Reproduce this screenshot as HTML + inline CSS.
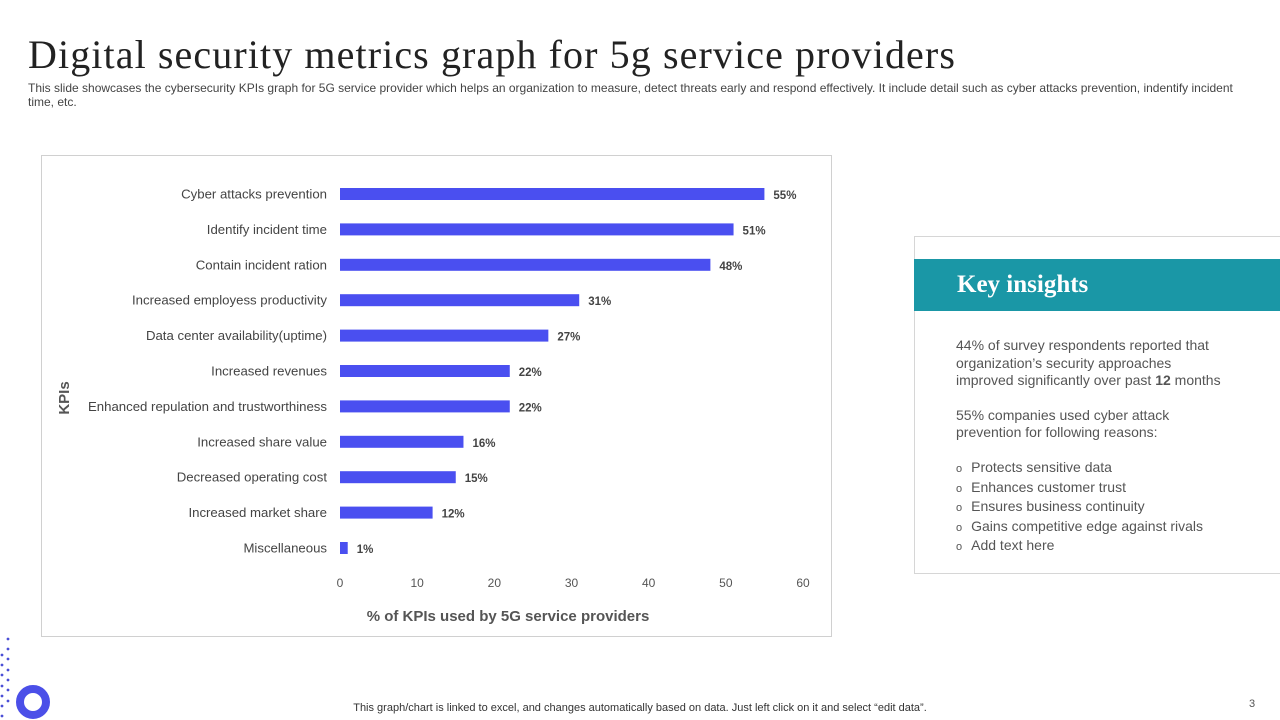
<!DOCTYPE html>
<html><head><meta charset="utf-8"><style>
body{margin:0;width:1280px;height:720px;background:#fff;position:relative;overflow:hidden;font-family:"Liberation Sans",sans-serif;}
.abs{position:absolute;}
</style></head><body>
<div class="abs" style="left:28px;top:31px;font-family:'Liberation Serif',serif;font-size:40px;color:#222;letter-spacing:1.1px;white-space:nowrap;">Digital security metrics graph for 5g service providers</div>
<div class="abs" style="left:28px;top:81px;width:1215px;font-size:12px;line-height:14px;color:#444;">This slide showcases the cybersecurity KPIs graph for 5G service provider which helps an organization to measure, detect threats early and respond effectively. It include detail such as cyber attacks prevention, indentify incident time, etc.</div>
<div class="abs" style="left:41px;top:155px;width:789px;height:480px;border:1px solid #d0d0d0;"></div>
<svg class="abs" id="chart" style="left:0;top:0" width="1280" height="720"></svg>
<div class="abs" style="left:914px;top:236px;width:370px;height:336px;border:1px solid #d6d6d6;"></div>
<div class="abs" style="left:914px;top:259px;width:366px;height:52px;background:#1a97a6;"></div>
<div class="abs" style="left:957px;top:271px;font-family:'Liberation Serif',serif;font-size:25px;color:#fff;font-weight:bold;">Key insights</div>
<div class="abs" style="left:956px;top:337px;width:272px;font-size:14px;line-height:17.6px;color:#555;">
<div>44% of survey respondents reported that organization’s security approaches improved significantly over past <b>12</b> months</div>
<div style="margin-top:17px">55% companies used cyber attack prevention for following reasons:</div>
<div style="margin-top:17px">
<div><span style="font-size:11px;margin-right:9px">o</span>Protects sensitive data</div>
<div><span style="font-size:11px;margin-right:9px">o</span>Enhances customer trust</div>
<div><span style="font-size:11px;margin-right:9px">o</span>Ensures business continuity</div>
<div style="white-space:nowrap"><span style="font-size:11px;margin-right:9px">o</span>Gains competitive edge against rivals</div>
<div><span style="font-size:11px;margin-right:9px">o</span>Add text here</div>
</div></div>
<div class="abs" style="left:0;width:1280px;text-align:center;top:702px;font-size:11px;color:#333;">This graph/chart is linked to excel, and changes automatically based on data. Just left click on it and select “edit data”.</div>
<div class="abs" style="left:1249px;top:698px;font-size:11px;color:#555;">3</div>
<svg class="abs" style="left:0;top:620px" width="60" height="100">
<g fill="#4b4fd6"><circle cx="8" cy="19" r="1.4"/><circle cx="8" cy="29" r="1.4"/><circle cx="8" cy="39" r="1.4"/><circle cx="8" cy="50" r="1.4"/><circle cx="8" cy="60" r="1.4"/><circle cx="8" cy="70" r="1.4"/><circle cx="8" cy="81" r="1.4"/><circle cx="2" cy="35" r="1.4"/><circle cx="2" cy="45" r="1.4"/><circle cx="2" cy="55" r="1.4"/><circle cx="2" cy="66" r="1.4"/><circle cx="2" cy="76" r="1.4"/><circle cx="2" cy="86" r="1.4"/><circle cx="2" cy="96" r="1.4"/></g>
<circle cx="33" cy="82" r="13" fill="none" stroke="#4b4fe8" stroke-width="8"/>
</svg>
<script>
const categories=["Cyber attacks prevention","Identify incident time","Contain incident ration","Increased employess productivity","Data center availability(uptime)","Increased revenues","Enhanced repulation and trustworthiness","Increased share value","Decreased operating cost","Increased market share","Miscellaneous"];
const values=[55,51,48,31,27,22,22,16,15,12,1];
const ticks=[0,10,20,30,40,50,60];
const svg=document.getElementById('chart');
const NS='http://www.w3.org/2000/svg';
const x0=340,x1=803,xmax=60,y0=194,step=35.4,bh=12;
const xs=v=>x0+(v/xmax)*(x1-x0);
const ys=i=>y0+i*step;
function mk(t,a,txt){const e=document.createElementNS(NS,t);for(const k in a)e.setAttribute(k,a[k]);if(txt!==undefined)e.textContent=txt;svg.appendChild(e);return e;}
categories.forEach((c,i)=>{
 const l=mk('text',{x:327,y:ys(i)+4.5,'text-anchor':'end','font-size':'13.2',fill:'#444','font-family':'Liberation Sans'},c);
 
 
 const b=mk('rect',{x:xs(0),y:ys(i)-bh/2,width:xs(values[i])-xs(0),height:bh,fill:'#4a4ff0'});
 
 
 const v=mk('text',{x:xs(values[i])+9,y:ys(i)+5,'font-size':'11.5','font-weight':'bold',fill:'#444','font-family':'Liberation Sans'},values[i]+'%');
 
 
});
ticks.forEach(t=>{
 const e=mk('text',{x:xs(t),y:587,'text-anchor':'middle','font-size':'12',fill:'#555','font-family':'Liberation Sans'},t);
 
 
});
const xt=mk('text',{x:508,y:621,'text-anchor':'middle','font-size':'15','font-weight':'bold',fill:'#555','font-family':'Liberation Sans'},'% of KPIs used by 5G service providers');


const yt=mk('text',{x:0,y:0,transform:'translate(69,398) rotate(-90)','text-anchor':'middle','font-size':'15','font-weight':'bold',fill:'#555','font-family':'Liberation Sans'},'KPIs');


</script>
</body></html>
